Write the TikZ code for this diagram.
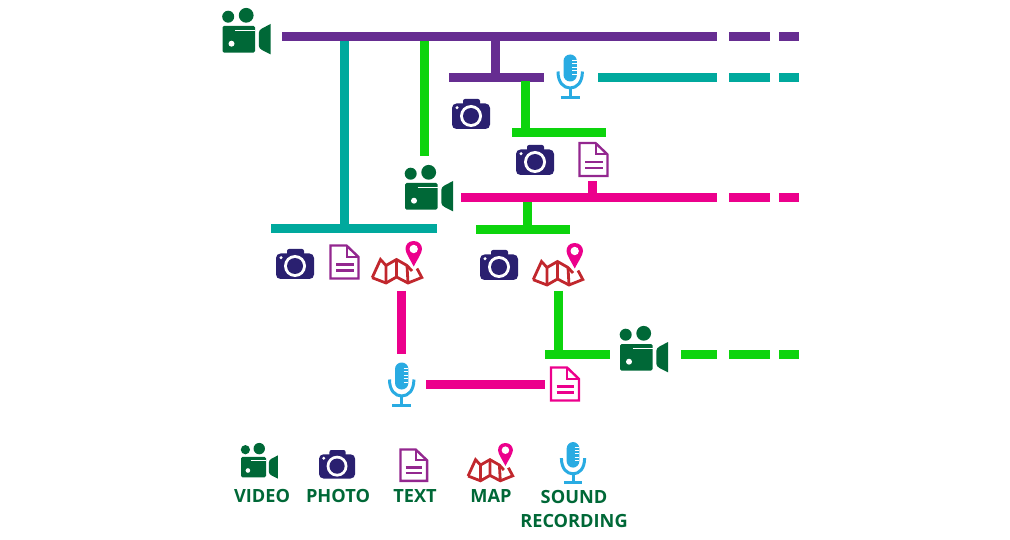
\documentclass[tikz,border=0pt]{standalone}
\usepackage{fontspec}
\setmainfont{Open Sans}
\definecolor{cpurple}{HTML}{662D91}
\definecolor{cteal}{HTML}{00A99D}
\definecolor{cgreen}{HTML}{0DD40D}
\definecolor{cmag}{HTML}{EC008C}
\definecolor{cvideo}{HTML}{006837}
\definecolor{cnavy}{HTML}{2A2070}
\definecolor{cdoc}{HTML}{93278F}
\definecolor{cred}{HTML}{C1272D}
\definecolor{cblue}{HTML}{29ABE2}
\tikzset{
 x=1pt,y=-1pt,
 link/.style={line width=9pt,line cap=butt},
 legendlabel/.style={text=cvideo,font=\bfseries\fontsize{18.2}{20}\selectfont,inner sep=0pt,align=center},
 pics/video/.style={code={
  \fill[cvideo] (5.7,8.7) circle (6) (23.7,7.3) circle (7.4);
  \fill[cvideo,rounded corners=1.5] (0,18) rectangle (32.5,44.7);
  \draw[white,line width=1.1pt] (12.5,22.6) -- (32.5,22.6);
  \fill[white] (9,35.7) circle (3);
  \fill[cvideo] (48,16) -- (48,46.3) -- (39.5,42) .. controls (37.5,41) and (36.3,39.5) .. (36.3,37.5) -- (36.3,25) .. controls (36.3,23) and (37.5,21.5) .. (39.5,20.5) -- cycle;
 }},
 pics/photo/.style={code={
  \fill[cnavy,rounded corners=4.5] (0,4.5) rectangle (38,30);
  \fill[cnavy,rounded corners=2] (11,0) rectangle (28,8);
  \fill[white] (19,17) circle (11);
  \fill[cnavy] (19,17) circle (8);
  \fill[white] (5,8.7) circle (1.7);
 }},
 pics/doc/.style={code={
  \draw[#1,line width=2.4pt,line join=miter] (0,0) -- (16,0) -- (28,11.5) -- (28,33) -- (0,33) -- cycle;
  \draw[#1,line width=2pt] (16,0) -- (16,11.5) -- (28,11.5);
  \draw[#1,line width=2.4pt] (5.5,19) -- (23,19) (5.5,25) -- (23,25);
 }},
 pics/map/.style={code={
  \draw[cred,line width=2.8pt,line join=miter]
    (1.2,36.7) -- (9.5,18.5) -- (15,24.5) -- (25.5,18.5) -- (36,24.5) -- (41,30);
  \draw[cred,line width=2.8pt,line join=miter]
    (46,27.5) -- (50.8,36.5) -- (37,42) -- (25.5,36) -- (15,42) -- (1.2,36.7);
  \draw[cred,line width=2.8pt]
    (15,24.5) -- (15,42) (25.5,18.5) -- (25.5,36) (36,24.5) -- (37,42);
  \fill[cmag] (42.7,0) .. controls (37,0) and (34.5,4) .. (34.5,8) .. controls (34.5,12) and (39.5,19) .. (42.7,25.5) .. controls (46,19) and (51,12) .. (51,8) .. controls (51,4) and (48,0) .. (42.7,0) -- cycle;
  \fill[white] (42.7,8) circle (4.2);
 }},
 pics/mic/.style={code={
  \fill[cblue,rounded corners=6.6] (7,0) rectangle (20.4,27);
  \draw[white,line width=0.8pt] (15.5,5.5) -- (20.4,5.5) (15.5,9) -- (20.4,9) (15.5,12.5) -- (20.4,12.5) (15.5,16) -- (20.4,16) (15.5,19.5) -- (20.4,19.5);
  \draw[cblue,line width=3pt] (1.5,17) .. controls (1.5,28) and (7,33.5) .. (13.7,33.5) .. controls (20.4,33.5) and (25.9,28) .. (25.9,17);
  \draw[cblue,line width=3pt] (13.7,33.5) -- (13.7,43);
  \draw[cblue,line width=3pt] (4,43) -- (23.4,43);
 }},
}
\begin{document}
\begin{tikzpicture}
\useasboundingbox (0,0) rectangle (1010,540);
% connector end points
\begin{scope}[yshift=-0.5pt]
\coordinate (pa) at (282,36); \coordinate (pb) at (717,36); \coordinate (pc) at (729,36); \coordinate (pd) at (770,36); \coordinate (pe) at (779,36); \coordinate (pf) at (799,36);
\coordinate (ta) at (344.5,36); \coordinate (tb) at (344.5,228); \coordinate (tc) at (271,228); \coordinate (td) at (437,228);
\coordinate (ga) at (424,40); \coordinate (gb) at (424,156);
\coordinate (qa) at (495,36); \coordinate (qb) at (495,77); \coordinate (qc) at (449,77); \coordinate (qd) at (544,77);
\coordinate (ha) at (525,81); \coordinate (hb) at (525,132); \coordinate (hc) at (512,132); \coordinate (hd) at (606,132);
\coordinate (ua) at (598,77); \coordinate (ub) at (717,77); \coordinate (uc) at (729,77); \coordinate (ud) at (770,77); \coordinate (ue) at (779,77); \coordinate (uf) at (799,77);
\coordinate (ma) at (461,197); \coordinate (mb) at (717,197); \coordinate (mc) at (729,197); \coordinate (md) at (770,197); \coordinate (me) at (779,197); \coordinate (mf) at (799,197);
\coordinate (na) at (592,181); \coordinate (nb) at (592,197);
\coordinate (ja) at (527,197); \coordinate (jb) at (527,229); \coordinate (jc) at (476,229); \coordinate (jd) at (570,229);
\end{scope}
\coordinate (ka) at (401,291); \coordinate (kb) at (401,354);
\coordinate (la) at (558,291); \coordinate (lb) at (558,354); \coordinate (lc) at (545,354); \coordinate (ld) at (610,354);
\coordinate (ra) at (681,354); \coordinate (rb) at (717,354); \coordinate (rc) at (729,354); \coordinate (rd) at (770,354); \coordinate (re) at (779,354); \coordinate (rf) at (799,354);
\coordinate (sa) at (426,384); \coordinate (sb) at (545,384);
% connectors
\draw[link,cteal] (ta) -- (tb);
\draw[link,cteal] (tc) -- (td);
\draw[link,cgreen] (ga) -- (gb);
\draw[link,cpurple] (qa) -- (qb);
\draw[link,cpurple] (qc) -- (qd);
\draw[link,cpurple] (pa) -- (pb);
\draw[link,cpurple] (pc) -- (pd);
\draw[link,cpurple] (pe) -- (pf);
\draw[link,cgreen] (ha) -- (hb);
\draw[link,cgreen] (hc) -- (hd);
\draw[link,cteal] (ua) -- (ub);
\draw[link,cteal] (uc) -- (ud);
\draw[link,cteal] (ue) -- (uf);
\draw[link,cgreen] (ja) -- (jb);
\draw[link,cgreen] (jc) -- (jd);
\draw[link,cmag] (na) -- (nb);
\draw[link,cmag] (ma) -- (mb);
\draw[link,cmag] (mc) -- (md);
\draw[link,cmag] (me) -- (mf);
\draw[link,cmag] (ka) -- (kb);
\draw[link,cgreen] (la) -- (lb);
\draw[link,cgreen] (lc) -- (ld);
\draw[link,cgreen] (ra) -- (rb);
\draw[link,cgreen] (rc) -- (rd);
\draw[link,cgreen] (re) -- (rf);
\draw[link,cmag] (sa) -- (sb);
% icons
\pic (vidA) at (222.5,8) {video};
\pic (vidB) at (405,165) {video};
\pic (vidC) at (620,326) {video};
\pic (phoA) at (452,99) {photo};
\pic (phoB) at (516,145) {photo};
\pic (phoC) at (276,249) {photo};
\pic (phoD) at (480,250) {photo};
\pic (docA) at (579.5,143) {doc=cdoc};
\pic (docB) at (330.5,245.5) {doc=cdoc};
\pic (docC) at (551,367.5) {doc=cmag};
\pic (mapA) at (371,241) {map};
\pic (mapB) at (532,243) {map};
\pic (micA) at (556.5,54.5) {mic};
\pic (micB) at (388,362.5) {mic};
% legend
\pic[scale=0.77] (vidL) at (241,443) {video};
\pic[scale=0.95] (phoL) at (319,450) {photo};
\pic[scale=0.95] (docL) at (400.5,449.5) {doc=cdoc};
\pic[scale=0.9] (mapL) at (467,443) {map};
\pic[scale=0.95] (micL) at (560,442) {mic};
\node[legendlabel] (lblVideo) at (262,496) {VIDEO};
\node[legendlabel] (lblPhoto) at (338,496) {PHOTO};
\node[legendlabel] (lblText) at (415,496) {TEXT};
\node[legendlabel] (lblMap) at (491,496) {MAP};
\node[legendlabel] (lblSound) at (574,497) {SOUND};
\node[legendlabel] (lblRec) at (574,521) {RECORDING};
\end{tikzpicture}
\end{document}
